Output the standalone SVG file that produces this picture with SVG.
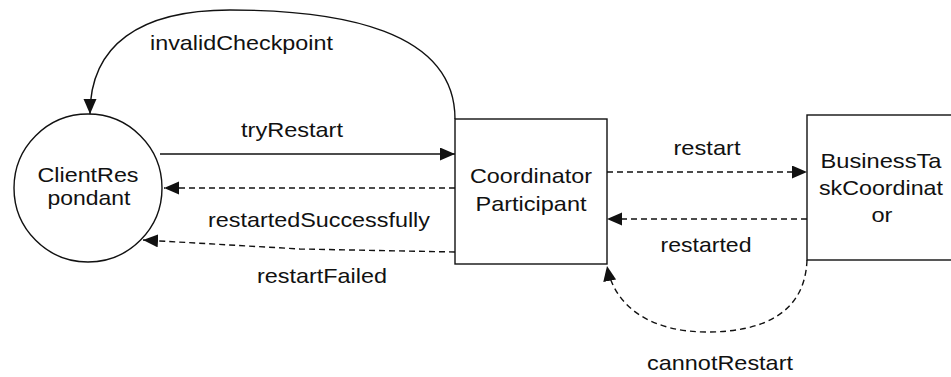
<svg xmlns="http://www.w3.org/2000/svg" width="951" height="377" viewBox="0 0 951 377">
  <style>
    .node { fill: #ffffff; stroke: #111111; stroke-width: 1.4; }
    .edge { fill: none; stroke: #111111; stroke-width: 1.4; }
    .dash { stroke-dasharray: 6 4; }
    text { font-family: "Liberation Sans", Arial, sans-serif; font-size: 21px; fill: #111111; text-anchor: middle; }
  </style>
  <defs>
    <marker id="arrow" markerUnits="userSpaceOnUse" markerWidth="16" markerHeight="14" refX="15" refY="6.5" orient="auto">
      <path d="M0,0 L15,6.5 L0,13 z" fill="#111111"/>
    </marker>
  </defs>

  <rect width="951" height="377" fill="#ffffff"/>

  <!-- nodes -->
  <g id="client-respondant">
    <circle class="node" cx="88" cy="188" r="74"/>
    <text x="88" y="182" textLength="101" lengthAdjust="spacingAndGlyphs">ClientRes</text>
    <text x="89" y="205" textLength="83" lengthAdjust="spacingAndGlyphs">pondant</text>
  </g>

  <g id="coordinator-participant">
    <rect class="node" x="455" y="119" width="152" height="145"/>
    <text x="531" y="183" textLength="122" lengthAdjust="spacingAndGlyphs">Coordinator</text>
    <text x="531" y="211" textLength="111" lengthAdjust="spacingAndGlyphs">Participant</text>
  </g>

  <g id="business-task-coordinator">
    <rect class="node" x="807" y="115" width="160" height="145"/>
    <text x="881" y="168" textLength="121" lengthAdjust="spacingAndGlyphs">BusinessTa</text>
    <text x="881" y="195" textLength="124" lengthAdjust="spacingAndGlyphs">skCoordinat</text>
    <text x="882" y="222" textLength="21" lengthAdjust="spacingAndGlyphs">or</text>
  </g>

  <!-- connectors -->
  <g id="connectors">
    <path class="edge" d="M455,119 C455,30 340,10 230,10 C140,10 90,45 90,114" marker-end="url(#arrow)"/>
    <path class="edge" d="M160,154 L455,154" marker-end="url(#arrow)"/>
    <path class="edge dash" d="M455,188 L164,188" marker-end="url(#arrow)"/>
    <path class="edge dash" d="M455,252 L300,249 L143,240" marker-end="url(#arrow)"/>
    <path class="edge dash" d="M607,172 L807,172" marker-end="url(#arrow)"/>
    <path class="edge dash" d="M807,219 L607,219" marker-end="url(#arrow)"/>
    <path class="edge dash" d="M807,260 C805,315 760,332 707,332 C655,332 615,310 607,266" marker-end="url(#arrow)"/>
  </g>

  <!-- connector labels -->
  <g id="labels">
    <text x="241.5" y="50" textLength="183" lengthAdjust="spacingAndGlyphs">invalidCheckpoint</text>
    <text x="292" y="137" textLength="102" lengthAdjust="spacingAndGlyphs">tryRestart</text>
    <text x="319" y="227" textLength="222" lengthAdjust="spacingAndGlyphs">restartedSuccessfully</text>
    <text x="322" y="283" textLength="130" lengthAdjust="spacingAndGlyphs">restartFailed</text>
    <text x="707" y="155" textLength="67" lengthAdjust="spacingAndGlyphs">restart</text>
    <text x="706" y="252" textLength="91" lengthAdjust="spacingAndGlyphs">restarted</text>
    <text x="720" y="370" textLength="146" lengthAdjust="spacingAndGlyphs">cannotRestart</text>
  </g>
</svg>
